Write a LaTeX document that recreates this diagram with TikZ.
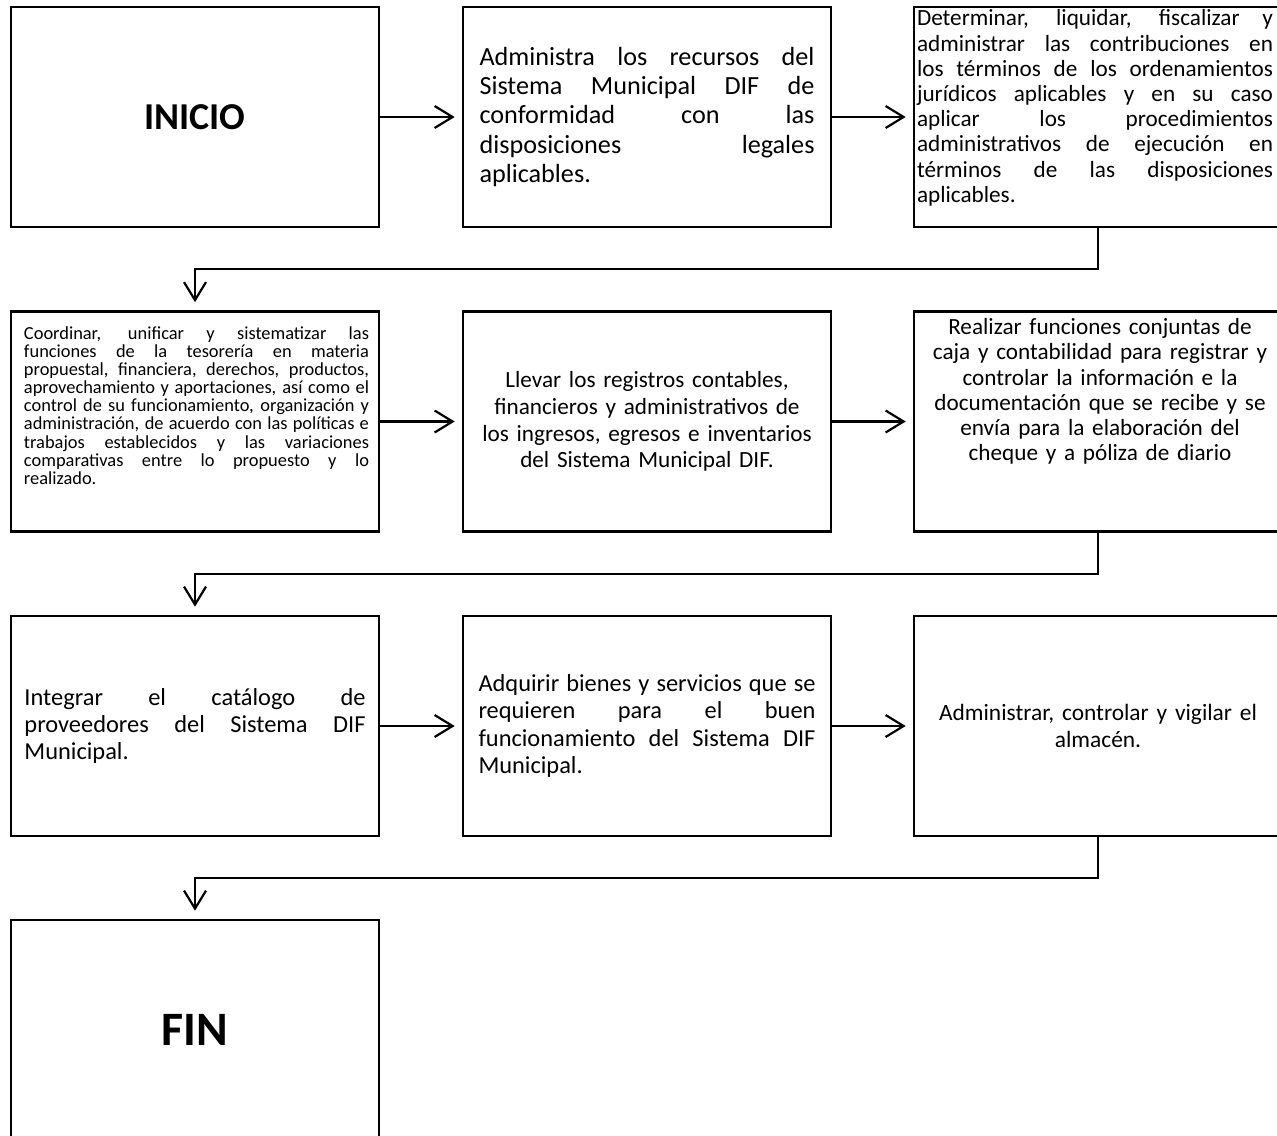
\documentclass[tikz,border=0pt]{standalone}
\usepackage{fontspec}
\setmainfont{Carlito}
\usetikzlibrary{arrows.meta,calc}
\newcommand{\jl}[1]{\leavevmode\hbox to \hsize{\spaceskip=.226em plus 1fil\xspaceskip=.226em plus 1fil\relax #1}}
\tikzset{
  box/.style={draw, line width=1.3pt, inner sep=0pt, minimum width=184pt, minimum height=110pt, anchor=center},
  txt/.style={inner sep=0pt, anchor=center},
  big/.style={font={\fontsize{12.2}{13.6}\selectfont}, text width=168.5pt, align=left},
  bigc/.style={font={\fontsize{11.6}{13.4}\selectfont}, text width=172pt, align=center},
  mid/.style={font={\fontsize{11.6}{12.6}\selectfont}, text width=178pt, align=left},
  midc/.style={font={\fontsize{11.6}{12.6}\selectfont}, text width=180pt, align=center},
  small/.style={font={\fontsize{9.2}{9.05}\selectfont}, text width=172.5pt, align=left},
  conn/.style={line width=1.1pt, -{Straight Barb[length=9pt,width=11pt,line width=1.1pt]}},
}
\begin{document}
\begin{tikzpicture}[x=0.5pt,y=0.5pt]
\useasboundingbox (0,0) rectangle (1277,-1135);
% row 1
\node[box, font={\fontsize{19}{22}\selectfont\bfseries}] (b1) at (195,-117) {INICIO};
\node[box, big, text width=167.5pt, font={\fontsize{13.1}{14.6}\selectfont}] (b2) at (647,-117) {\jl{Administra los recursos del}\\\jl{Sistema Municipal DIF de}\\\jl{conformidad con las}\\\jl{disposiciones legales}\\aplicables.};
\node[box] (b3) at (1098,-117) {};
\node[txt, mid] (b3t) at ([xshift=-1.5pt,yshift=4.5pt]b3.center) {\jl{Determinar, liquidar, fiscalizar y}\\\jl{administrar las contribuciones en}\\\jl{los términos de los ordenamientos}\\\jl{jurídicos aplicables y en su caso}\\\jl{aplicar los procedimientos}\\\jl{administrativos de ejecución en}\\\jl{términos de las disposiciones}\\aplicables.};
% row 2
\node[box] (b4) at (195,-421.5) {};
\node[txt, small] (b4t) at ([xshift=0.75pt,yshift=8pt]b4.center) {\jl{Coordinar, unificar y sistematizar las}\\\jl{funciones de la tesorería en materia}\\\jl{propuestal, financiera, derechos, productos,}\\\jl{aprovechamiento y aportaciones, así como el}\\\jl{control de su funcionamiento, organización y}\\\jl{administración, de acuerdo con las políticas e}\\\jl{trabajos establecidos y las variaciones}\\\jl{comparativas entre lo propuesto y lo}\\realizado.};
\node[box, bigc] (b5) at (647,-421.5) {Llevar los registros contables,\\financieros y administrativos de\\los ingresos, egresos e inventarios\\del Sistema Municipal DIF.};
\node[box] (b6) at (1098,-421.5) {};
\node[txt, midc] (b6t) at ([xshift=1pt,yshift=15pt]b6.center) {Realizar funciones conjuntas de\\caja y contabilidad para registrar y\\controlar la información e la\\documentación que se recibe y se\\envía para la elaboración del\\cheque y a póliza de diario};
% row 3
\node[box, big, text width=170.5pt] (b7) at (195,-726) {\jl{Integrar el catálogo de}\\\jl{proveedores del Sistema DIF}\\Municipal.};
\node[box, big] (b8) at (647,-726) {\jl{Adquirir bienes y servicios que se}\\\jl{requieren para el buen}\\\jl{funcionamiento del Sistema DIF}\\Municipal.};
\node[box, bigc, font={\fontsize{11.7}{13.5}\selectfont}] (b9) at (1098,-726) {Administrar, controlar y vigilar el\\almacén.};
% row 4
\node[box, font={\fontsize{24}{28}\selectfont\bfseries}] (b10) at (195,-1030) {FIN};
% connectors
\draw[conn, shorten >=3.5pt] (b1.east) -- (b2.west);
\draw[conn, shorten >=3.5pt] (b2.east) -- (b3.west);
\draw[conn, shorten >=3.5pt] (b4.east) -- (b5.west);
\draw[conn, shorten >=3.5pt] (b5.east) -- (b6.west);
\draw[conn, shorten >=3.5pt] (b7.east) -- (b8.west);
\draw[conn, shorten >=3.5pt] (b8.east) -- (b9.west);
\draw[conn, shorten >=4pt] (b3.south) |- ($(b3.south)!0.5!(b4.north)$) -| (b4.north);
\draw[conn, shorten >=4pt] (b6.south) |- ($(b6.south)!0.5!(b7.north)$) -| (b7.north);
\draw[conn, shorten >=4pt] (b9.south) |- ($(b9.south)!0.5!(b10.north)$) -| (b10.north);
\end{tikzpicture}
\end{document}
